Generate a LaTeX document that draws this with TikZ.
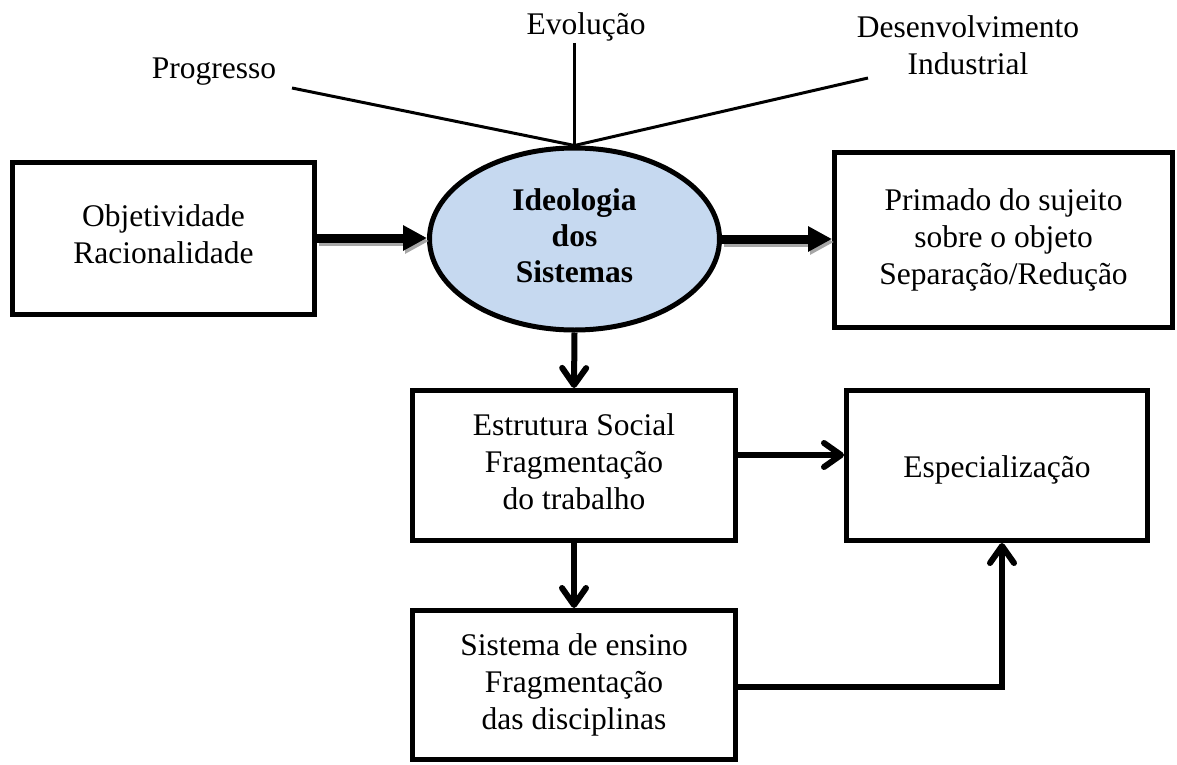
\documentclass[tikz,border=0pt]{standalone}
\usepackage{fontspec}
\setmainfont{Liberation Serif}
\usetikzlibrary{shapes.geometric,arrows.meta}
\definecolor{ellfill}{RGB}{198,217,240}
\begin{document}
\begin{tikzpicture}[x=1pt,y=-1pt,
  every node/.style={font=\fontsize{31.5}{37}\selectfont},
  linestrut/.style={execute at begin node={\rule{0pt}{#1}},execute at end node={\rule[-7pt]{0pt}{7pt}}},
  linestrut/.default=30pt,
  boxnode/.style={draw,line width=5pt,rectangle,align=center,inner sep=0pt,linestrut},
  lbl/.style={align=center,inner sep=0pt},
  thinline/.style={line width=3pt},
  bigarrow/.style={line width=9pt,-{Triangle[length=24pt,width=24pt]}},
  shadowarrow/.style={line width=9pt,-{Triangle[length=24pt,width=24pt]},draw=black!35,fill=black!35},
  flow/.style={line width=6pt,-{Straight Barb[round,length=17pt,width=24pt]}}]
\useasboundingbox (0,0) rectangle (1177,765);
\node[ellipse,draw,line width=5pt,fill=ellfill,minimum width=290pt,minimum height=182pt,inner sep=0pt,align=center,linestrut=35pt,font=\fontsize{31.5}{36}\selectfont\bfseries] (ell) at (574.5,239) {Ideologia\\dos\\Sistemas};
\node[boxnode,minimum width=302pt,minimum height=152pt] (left) at (163.5,238) {Objetividade\\Racionalidade};
\node[boxnode,minimum width=338pt,minimum height=175pt] (right) at (1003.5,240) {Primado do sujeito\\sobre o objeto\\Separação/Redução};
\node[boxnode,minimum width=323pt,minimum height=150pt] (estr) at (574,465.5) {Estrutura Social\\Fragmentação\\do trabalho};
\node[boxnode,minimum width=301pt,minimum height=150pt] (espec) at (997,465.5) {Especialização};
\node[boxnode,minimum width=323pt,minimum height=149pt,linestrut=33pt] (sist) at (574,685) {Sistema de ensino\\Fragmentação\\das disciplinas};
\node[lbl,anchor=base] (evo) at (586,35) {Evolução};
\node[lbl,anchor=base] (prog) at (214,79) {Progresso};
\node[lbl] (desen) at (968,45) {Desenvolvimento\\Industrial};
\coordinate (cevo) at (574.5,43);
\coordinate (cprog) at (292,88);
\coordinate (cdes) at (868,78);
\draw[thinline] (cevo) -- (ell.north);
\draw[thinline] (cprog) -- (ell.north);
\draw[thinline] (cdes) -- (ell.north);
\begin{scope}[transform canvas={shift={(2pt,-3pt)}}]
\draw[shadowarrow] (left.east) -- (left.east -| ell.west);
\draw[shadowarrow] (ell.east) -- (ell.east -| right.west);
\end{scope}
\draw[bigarrow] (left.east) -- (left.east -| ell.west);
\draw[bigarrow] (ell.east) -- (ell.east -| right.west);
\draw[flow] (ell.south) -- (estr.north);
\draw[flow] (estr.east |- 0,455) -- (espec.west |- 0,455);
\draw[flow] (estr.south) -- (sist.north);
\draw[flow] (sist.east |- 0,687) -| (espec.south -| 1002,0);
\end{tikzpicture}
\end{document}
